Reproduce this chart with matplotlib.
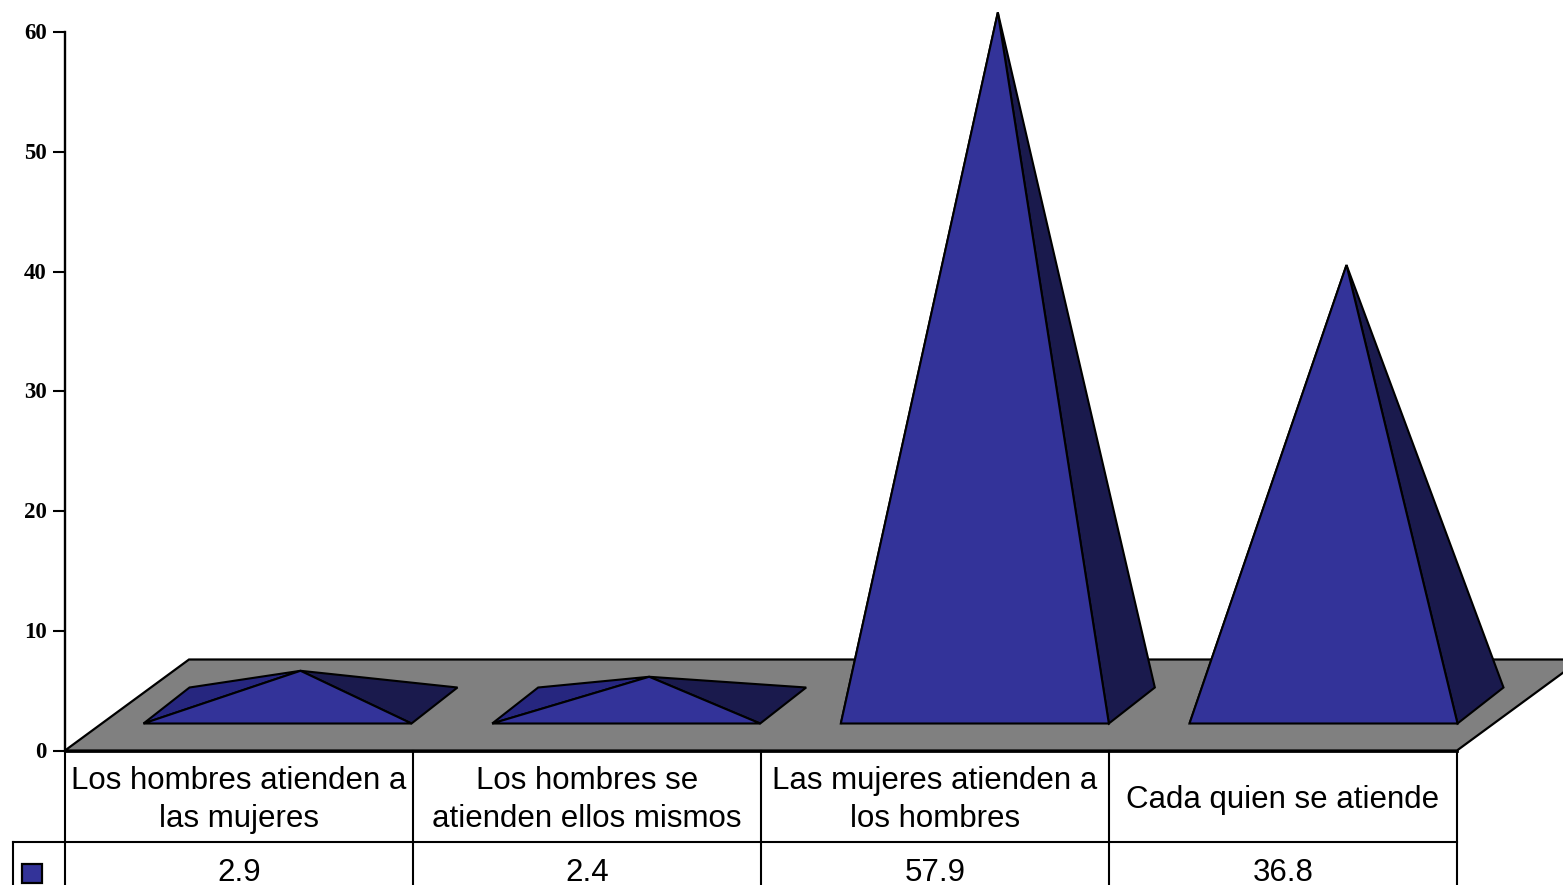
import matplotlib
matplotlib.use('Agg')
import matplotlib.pyplot as plt
from matplotlib.patches import Polygon, Rectangle
from matplotlib.transforms import ScaledTranslation

categories = ['Los hombres atienden a\nlas mujeres',
              'Los hombres se\natienden ellos mismos',
              'Las mujeres atienden a\nlos hombres',
              'Cada quien se atiende']
values = [2.9, 2.4, 57.9, 36.8]
value_labels = ['2.9', '2.4', '57.9', '36.8']
y_ticks = [0, 10, 20, 30, 40, 50, 60]

BLUE = '#333399'
LEFT = '#26267F'
DARK = '#1A1A4D'
GRAY = '#808080'

# scale of the chart in pixels
W, H = 1563, 885
CAT_PX = 348
UNIT_PX = 11.97
X0_PX, Y0_PX = 65, 750.5


def px(n):
    return n / CAT_PX


def py(n):
    return n / UNIT_PX


fig = plt.figure(figsize=(W / 100, H / 100), dpi=100)
ax = fig.add_axes([0, 0, 1, 1])
ax.set_xlim(-px(X0_PX), px(W - X0_PX))
ax.set_ylim(-py(H - Y0_PX), py(Y0_PX))
ax.patch.set_alpha(0)

for side in ['top', 'right', 'bottom']:
    ax.spines[side].set_visible(False)
ax.spines['left'].set_position(('data', 0))
ax.spines['left'].set_bounds(0, 60)
ax.spines['left'].set_linewidth(1.7)
ax.spines['left'].set_zorder(8)
ax.set_xticks([])
ax.set_yticks(y_ticks)
ax.tick_params(axis='y', direction='out', length=9, width=1.5, pad=4)
up = ScaledTranslation(0, 1 / 100, fig.dpi_scale_trans)
for lab in ax.get_yticklabels():
    lab.set_fontfamily('Liberation Serif')
    lab.set_fontweight('bold')
    lab.set_fontsize(16.5)
    lab.set_transform(lab.get_transform() + up)

# floor
n = len(values)
floor_dx, floor_dy = px(124), py(91)
ax.add_patch(Polygon([(0, 0), (n, 0), (n + floor_dx, floor_dy), (floor_dx, floor_dy)],
                     facecolor=GRAY, edgecolor='black', lw=1.6, zorder=1))

# pyramids
inset = px(78.5)
step = px(348.67)
width = px(268)
base_y = py(27)
depth_dx, depth_dy = px(46), py(36)
for i, v in enumerate(values):
    x1 = inset + i * step
    x2 = x1 + width
    y1 = base_y
    y2 = base_y + depth_dy
    apex = (x1 + width / 2 + depth_dx / 2, y1 + depth_dy / 2 + v)
    ax.add_patch(Polygon([(x1, y1), (x1 + depth_dx, y2), apex],
                         facecolor=LEFT, edgecolor='black', lw=1.5, zorder=3))
    ax.add_patch(Polygon([(x2, y1), (x2 + depth_dx, y2), apex],
                         facecolor=DARK, edgecolor='black', lw=1.5, zorder=3))
    ax.add_patch(Polygon([(x1, y1), (x2, y1), apex],
                         facecolor=BLUE, edgecolor='black', lw=1.5, zorder=4))

# data table under the chart
row1 = -py(842 - Y0_PX)
bottom = -py(H - Y0_PX)
ax.plot([0, n], [0, 0], color='black', lw=2.0, zorder=6)
ax.plot([-px(52), n], [row1, row1], color='black', lw=1.5, zorder=6)
for i in range(n + 1):
    ax.plot([i, i], [0, bottom], color='black', lw=1.5, zorder=6)
ax.plot([-px(52), -px(52)], [row1, bottom], color='black', lw=1.5, zorder=6)

for i, (cat, lab) in enumerate(zip(categories, value_labels)):
    ax.text(i + 0.5, -py(800 - Y0_PX), cat, ha='center', va='center',
            family='Liberation Sans', fontsize=22.5, linespacing=1.31, color='black')
    ax.text(i + 0.5, -py(873 - Y0_PX), lab, ha='center', va='center',
            family='Liberation Sans', fontsize=22.5, color='black')

# legend key
ax.add_patch(Rectangle((-px(43), -py(883 - Y0_PX)), px(20), py(19),
                       facecolor=BLUE, edgecolor='black', lw=1.6, zorder=6))

fig.savefig('out.png', dpi=100)
